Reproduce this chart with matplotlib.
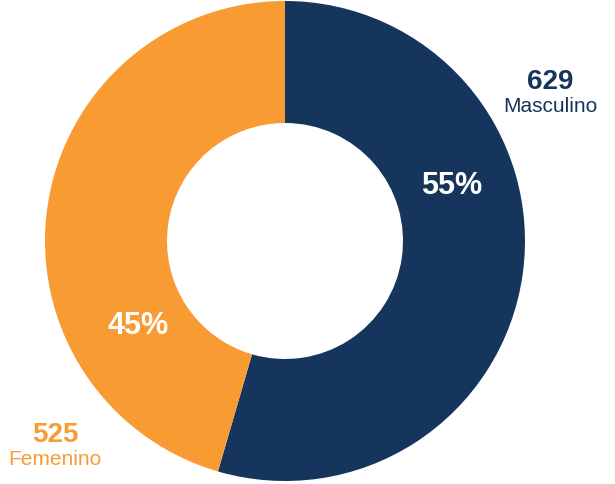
import matplotlib
matplotlib.use("Agg")
import matplotlib.pyplot as plt

categories = ["Masculino", "Femenino"]
values = [629, 525]
colors = ["#15355c", "#f89b32"]

W, H = 615, 485
fig = plt.figure(figsize=(W / 100, H / 100), dpi=100)
cx, cy, R = 285, 242, 240
ax = fig.add_axes([(cx - R) / W, (H - cy - R) / H, 2 * R / W, 2 * R / H])
ax.pie(values, colors=colors, startangle=90, counterclock=False,
       radius=1.0, wedgeprops=dict(width=1 - 118 / 240, linewidth=0))
ax.set_xlim(-1, 1)
ax.set_ylim(-1, 1)
ax.set_aspect("equal")
ax.axis("off")

font = "Liberation Sans"
total = sum(values)
pcts = [f"{round(v / total * 100)}%" for v in values]

def fx(x):
    return x / W

def fy(y):
    return 1 - y / H

# percent labels
pct_pos = [(452, 186), (138, 326)]
for (x, y), p in zip(pct_pos, pcts):
    fig.text(fx(x), fy(y), p, color="white", fontsize=22, fontweight="bold",
             ha="center", va="center", family=font)

# outer labels
lab_pos = [(550, 82, 107), (55, 435, 460)]
for (x, y1, y2), v, c, col in zip(lab_pos, values, categories, colors):
    fig.text(fx(x), fy(y1), str(v), color=col, fontsize=20, fontweight="bold",
             ha="center", va="center", family=font)
    fig.text(fx(x), fy(y2), c, color=col, fontsize=15,
             ha="center", va="center", family=font)

fig.savefig("out.png", dpi=100, facecolor="white")
